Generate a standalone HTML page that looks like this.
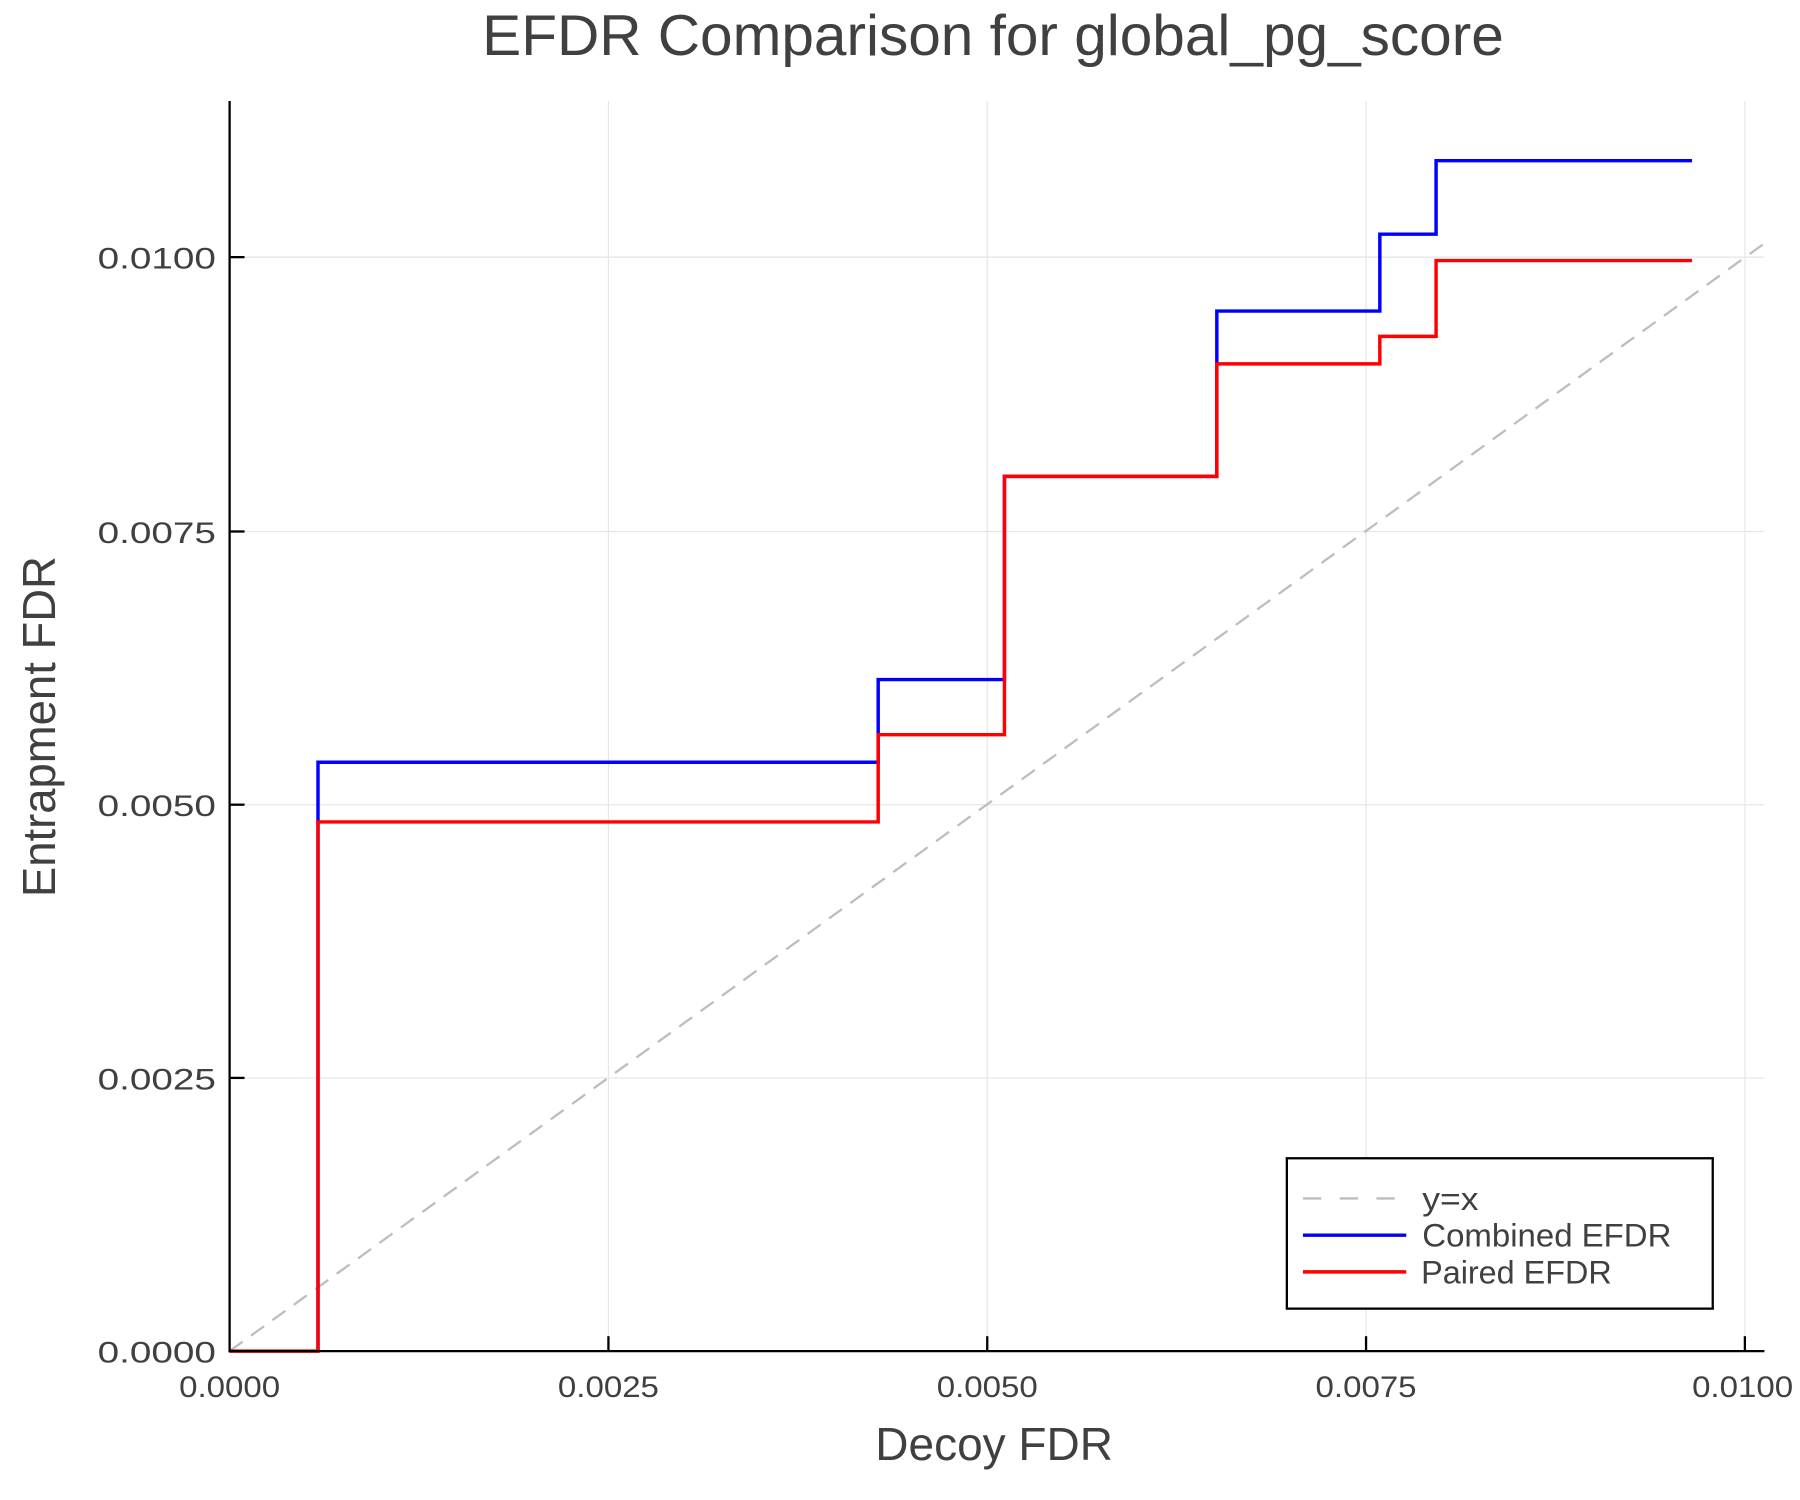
<!DOCTYPE html>
<html><head><meta charset="utf-8"><style>html,body{margin:0;padding:0;background:#fff}svg{display:block}</style></head>
<body>
<svg width="1800" height="1500" viewBox="0 0 1568 1306.7" xmlns="http://www.w3.org/2000/svg" font-family="Liberation Sans, sans-serif">
<rect width="1568" height="1306.7" fill="#fff"/>
<g stroke="#e6e6e6" stroke-width="1">
<line x1="530" y1="88" x2="530" y2="1177"/><line x1="860" y1="88" x2="860" y2="1177"/><line x1="1190" y1="88" x2="1190" y2="1177"/><line x1="1520" y1="88" x2="1520" y2="1177"/>
<line x1="200" y1="939" x2="1537" y2="939"/><line x1="200" y1="701" x2="1537" y2="701"/><line x1="200" y1="463" x2="1537" y2="463"/><line x1="200" y1="224" x2="1537" y2="224"/>
</g>
<line x1="200" y1="1177" x2="1537" y2="212" stroke="#bdbdbd" stroke-width="2" stroke-dasharray="14,9"/>
<polyline fill="none" stroke="#0000ff" stroke-width="3" points="277,1177 277,664 765,664 765,592 875,592 875,415 1060,415 1060,271 1202,271 1202,204 1251,204 1251,140 1474,140"/>
<polyline fill="none" stroke="#ff0000" stroke-width="3" points="200,1177 277,1177 277,716 765,716 765,640 875,640 875,415 1060,415 1060,317 1202,317 1202,293 1251,293 1251,227 1474,227"/>
<g stroke="#000" stroke-width="2">
<line x1="200" y1="88" x2="200" y2="1178"/><line x1="199" y1="1177" x2="1537" y2="1177"/>
<line x1="530" y1="1177" x2="530" y2="1164"/><line x1="860" y1="1177" x2="860" y2="1164"/><line x1="1190" y1="1177" x2="1190" y2="1164"/><line x1="1520" y1="1177" x2="1520" y2="1164"/>
<line x1="200" y1="939" x2="213" y2="939"/><line x1="200" y1="701" x2="213" y2="701"/><line x1="200" y1="463" x2="213" y2="463"/><line x1="200" y1="224" x2="213" y2="224"/>
</g>
<g fill="#404040" font-size="26">
<g text-anchor="end"><text x="188" y="1187" textLength="103" lengthAdjust="spacingAndGlyphs">0.0000</text><text x="188" y="949" textLength="103" lengthAdjust="spacingAndGlyphs">0.0025</text><text x="188" y="711" textLength="103" lengthAdjust="spacingAndGlyphs">0.0050</text><text x="188" y="473" textLength="103" lengthAdjust="spacingAndGlyphs">0.0075</text><text x="188" y="234" textLength="103" lengthAdjust="spacingAndGlyphs">0.0100</text></g>
<g text-anchor="middle"><text x="200" y="1217" textLength="88" lengthAdjust="spacingAndGlyphs">0.0000</text><text x="530" y="1217" textLength="88" lengthAdjust="spacingAndGlyphs">0.0025</text><text x="860" y="1217" textLength="88" lengthAdjust="spacingAndGlyphs">0.0050</text><text x="1190" y="1217" textLength="88" lengthAdjust="spacingAndGlyphs">0.0075</text><text x="1518" y="1217" textLength="88" lengthAdjust="spacingAndGlyphs">0.0100</text></g>
<text x="865" y="48" font-size="50" text-anchor="middle" textLength="890" lengthAdjust="spacingAndGlyphs">EFDR Comparison for global_pg_score</text>
<text x="866" y="1272" font-size="40" text-anchor="middle" textLength="207" lengthAdjust="spacingAndGlyphs">Decoy FDR</text>
<text transform="translate(48,633) rotate(-90)" font-size="40" text-anchor="middle" textLength="297" lengthAdjust="spacingAndGlyphs">Entrapment FDR</text>
</g>
<rect x="1121" y="1009" width="371" height="131" fill="#fff" stroke="#000" stroke-width="2"/>
<line x1="1135" y1="1044" x2="1225" y2="1044" stroke="#bdbdbd" stroke-width="2" stroke-dasharray="16,16"/>
<line x1="1135" y1="1076" x2="1225" y2="1076" stroke="#0000ff" stroke-width="3"/>
<line x1="1135" y1="1108" x2="1225" y2="1108" stroke="#ff0000" stroke-width="3"/>
<g fill="#404040" font-size="28"><text x="1239" y="1054" textLength="49" lengthAdjust="spacingAndGlyphs">y=x</text><text x="1239" y="1086" textLength="217" lengthAdjust="spacingAndGlyphs">Combined EFDR</text><text x="1238" y="1118" textLength="166" lengthAdjust="spacingAndGlyphs">Paired EFDR</text></g>
</svg>
</body></html>
